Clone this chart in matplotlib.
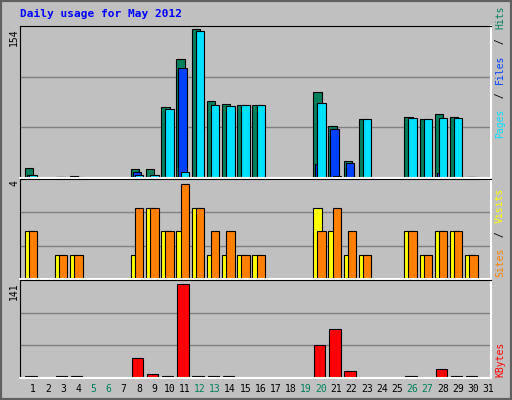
import numpy as np
import matplotlib.pyplot as plt
from matplotlib.patches import Rectangle

days = np.arange(1, 32)
hits = [10, 0, 1, 2, 0, 0, 0, 9, 9, 73, 123, 154, 80, 76, 75, 75, 0, 0, 0, 89, 54, 18, 61, 0, 0, 63, 61, 66, 63, 1, 0]
files = [3, 0, 1, 1, 0, 0, 0, 6, 0, 0, 114, 0, 0, 0, 0, 0, 0, 0, 0, 14, 51, 15, 0, 0, 0, 0, 0, 5, 0, 1, 0]
pages = [3, 0, 1, 1, 0, 0, 0, 3, 3, 71, 6, 152, 75, 74, 75, 75, 0, 0, 0, 78, 2, 1, 61, 0, 0, 62, 61, 62, 62, 1, 0]
visits = [2, 0, 1, 1, 0, 0, 0, 1, 3, 2, 2, 3, 1, 1, 1, 1, 0, 0, 0, 3, 2, 1, 1, 0, 0, 2, 1, 2, 2, 1, 0]
sites = [2, 0, 1, 1, 0, 0, 0, 3, 3, 2, 4, 3, 2, 2, 1, 1, 0, 0, 0, 2, 3, 2, 1, 0, 0, 2, 1, 2, 2, 1, 0]
kbytes = [3.6, 0, 2.5, 2.5, 0, 0, 0, 30, 5.7, 2.5, 141, 2.5, 3.6, 3.6, 0, 0, 0, 0, 0, 50, 73, 11, 0, 0, 0, 2.5, 0, 13, 2.5, 2.5, 0]
weekend = [5, 6, 12, 13, 19, 20, 26, 27]

C_HITS, C_FILES, C_PAGES = '#00805C', '#0040FF', '#00E0FF'
C_VISITS, C_SITES, C_KB = '#FFFF00', '#FF8000', '#FF0000'
BG = '#C0C0C0'
W, H = 512, 400
mono = 'DejaVu Sans Mono'

fig = plt.figure(figsize=(5.12, 4.0), dpi=100, facecolor=BG)
fig.patches.append(Rectangle((0, 0), 1, 1, transform=fig.transFigure, fill=False,
                             edgecolor='#606060', linewidth=3))

def panel(top, bottom):
    ax = fig.add_axes([20 / W, 1 - bottom / H, 471 / W, (bottom - top) / H])
    ax.set_facecolor(BG)
    ax.set_xlim(0.5, 31.5)
    ax.set_xticks([]); ax.set_yticks([])
    for s in ('top', 'left'):
        ax.spines[s].set_color('black')
    for s in ('bottom', 'right'):
        ax.spines[s].set_color('white')
        ax.spines[s].set_linewidth(1.5)
    for f in (1 / 3, 2 / 3):
        ax.plot([0, 1], [f, f], transform=ax.transAxes, color='#808080', lw=1, zorder=0)
    return ax

def bars(ax, vals, off, width, color):
    v = np.array(vals, float)
    m = v > 0
    ax.bar(days[m] + off, v[m], width=width, align='edge', color=color,
           edgecolor='black', linewidth=0.8, zorder=2)

sh = 0.35
ax1 = panel(26, 178)
ax1.set_ylim(0, 154 * 1.02)
bars(ax1, hits, -0.55 + sh, 0.55, C_HITS)
bars(ax1, files, -0.42 + sh, 0.55, C_FILES)
bars(ax1, pages, -0.28 + sh, 0.55, C_PAGES)

ax2 = panel(179, 279)
ax2.set_ylim(0, 4.2)
bars(ax2, visits, -0.55 + sh, 0.55, C_VISITS)
bars(ax2, sites, -0.28 + sh, 0.55, C_SITES)

ax3 = panel(280, 378)
ax3.set_ylim(0, 147)
bars(ax3, kbytes, -0.5 + sh, 0.75, C_KB)

fig.text(20 / W, 1 - 14 / H, 'Daily usage for May 2012', color='#0000FF',
         fontsize=8, fontweight='bold', family=mono, va='center')
for lab, y in (('154', 28), ('4', 180), ('141', 282)):
    fig.text(14 / W, 1 - y / H, lab, rotation=90, ha='center', va='top',
             fontsize=7, family=mono)
for d in days:
    x = 20 + (d - 0.5) / 31 * 471 + 5
    fig.text(x / W, 1 - 389 / H, str(d), ha='center', va='center', fontsize=7,
             family=mono, color=C_HITS if d in weekend else 'black')

def side(parts, ybottom):
    y = ybottom
    for txt, col in parts:
        fig.text(500 / W, 1 - y / H, txt, rotation=90, ha='center', va='bottom',
                 fontsize=7, family=mono, color=col)
        y -= len(txt) * 6.8

side([('Pages', C_PAGES), (' / ', 'black'), ('Files', C_FILES), (' / ', 'black'), ('Hits', C_HITS)], 138)
side([('Sites', C_SITES), (' / ', 'black'), ('Visits', C_VISITS)], 277)
side([('KBytes', C_KB)], 377)

fig.savefig('out.png', dpi=100, facecolor=BG)
